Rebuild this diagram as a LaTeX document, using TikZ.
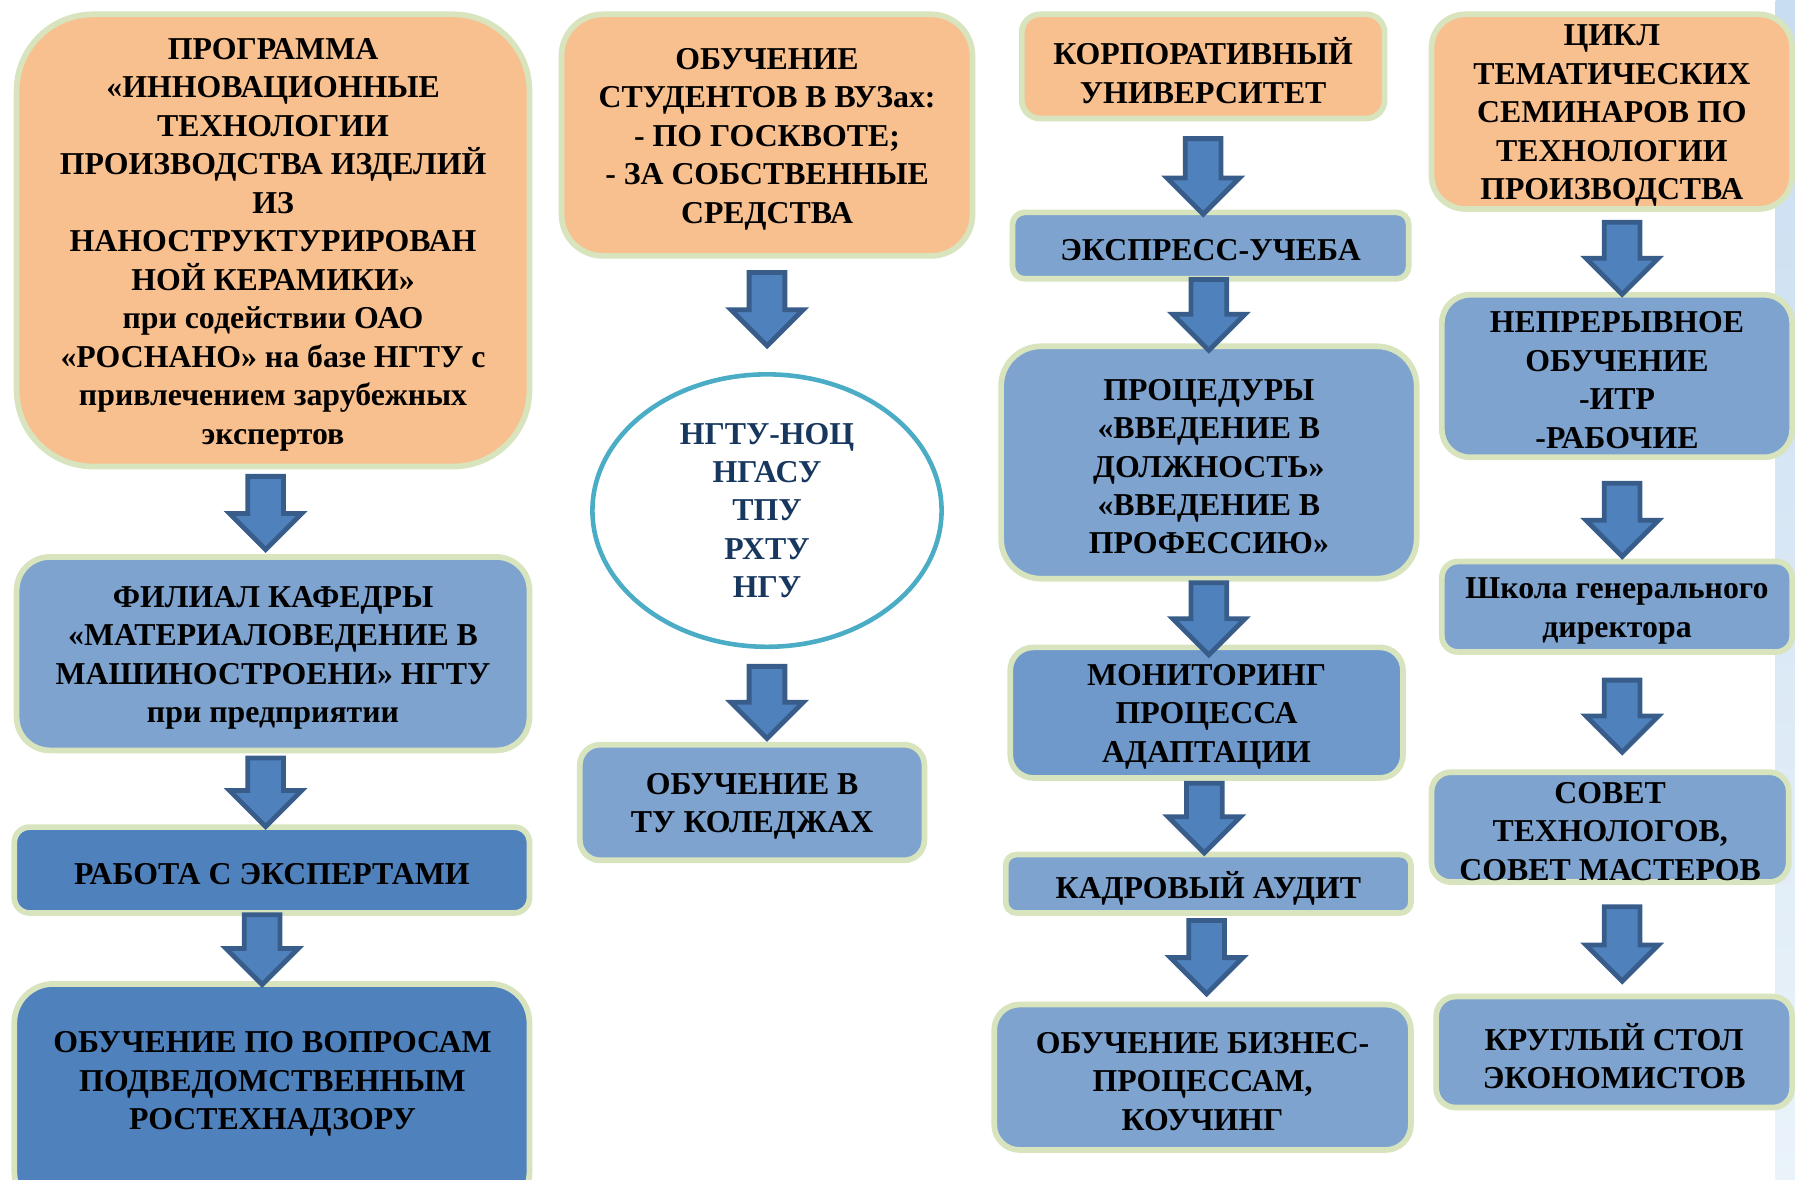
\documentclass[tikz,border=0pt]{standalone}
\usepackage{fontspec}
\setmainfont{Liberation Serif}
\usetikzlibrary{shapes.geometric,shapes.arrows}
\definecolor{orfill}{HTML}{F9C08F}
\definecolor{bord}{HTML}{D7E4BD}
\definecolor{lblue}{HTML}{7EA3CF}
\definecolor{mblue}{HTML}{7099CB}
\definecolor{dblue}{HTML}{4F81BD}
\definecolor{arrfill}{HTML}{4F81BD}
\definecolor{arrline}{HTML}{385D8A}
\definecolor{ellline}{HTML}{4BACC6}
\definecolor{navytxt}{HTML}{17375E}
\definecolor{stripa}{HTML}{C9DDF0}
\definecolor{stripb}{HTML}{EAF3FA}

\newcommand\mybox[7]{%
  \pgfmathsetmacro\bw{#4-#2}%
  \pgfmathsetmacro\bh{#5-#3}%
  \pgfmathsetmacro\br{0.0835*min(\bw,\bh)}%
  \pgfmathsetmacro\bcx{(#2+#4)/2}%
  \pgfmathsetmacro\bcy{(#3+#5)/2}%
  \node[#6, rounded corners=\br pt, minimum width={(\bw-5)*0.5pt}, minimum height={(\bh-5)*0.5pt}] (#1) at (\bcx,\bcy) {};%
  \node[txt, yshift=-1.8pt] (#1t) at (#1.center) {#7};%
}
\newcommand\myarrow[4]{%
  \pgfmathsetmacro\al{(#4-#3-4)*0.5}%
  \pgfmathsetmacro\aty{#3+2}%
  \node[barrow, minimum height=\al pt, anchor=tail] (#1) at (#2,\aty) {};%
}

\begin{document}
\begin{tikzpicture}[x=0.5pt,y=-0.5pt,
  txt/.style={align=center, inner sep=0pt, font=\bfseries\fontsize{13.9}{16.8}\selectfont},
  box/.style={draw=bord, line width=2.5pt, inner sep=0pt},
  boxor/.style={box, fill=orfill},
  boxlb/.style={box, fill=lblue},
  boxmb/.style={box, fill=mblue},
  boxdb/.style={box, fill=dblue},
  barrow/.style={single arrow, rotate=-90, fill=arrfill, draw=arrline,
    line width=2.1pt, single arrow head extend=8pt,
    inner xsep=0pt, inner ysep=6.75pt, single arrow head indent=0pt}
]
\useasboundingbox (0,0) rectangle (1568,1030);
\fill[top color=stripa, bottom color=stripb] (1551,0) rectangle (1568,1030);

% column 1
\mybox{b1}{12}{10}{465}{410}{boxor}{ПРОГРАММА\\«ИННОВАЦИОННЫЕ\\ТЕХНОЛОГИИ\\ПРОИЗВОДСТВА ИЗДЕЛИЙ\\ИЗ\\НАНОСТРУКТУРИРОВАН\\НОЙ КЕРАМИКИ»\\при содействии ОАО\\«РОСНАНО» на базе НГТУ с\\привлечением зарубежных\\экспертов}
\mybox{b2}{12}{484}{465}{658}{boxlb}{ФИЛИАЛ КАФЕДРЫ\\«МАТЕРИАЛОВЕДЕНИЕ В\\МАШИНОСТРОЕНИ» НГТУ\\при предприятии}
\mybox{b3}{10}{720}{465}{800}{boxdb}{РАБОТА С ЭКСПЕРТАМИ}
\mybox{b4}{10}{857}{465}{1060}{boxdb}{}
\node[txt] (t4) at (238,947) {ОБУЧЕНИЕ ПО ВОПРОСАМ\\ПОДВЕДОМСТВЕННЫМ\\РОСТЕХНАДЗОРУ};

% column 2
\mybox{b5}{488}{10}{852}{226}{boxor}{ОБУЧЕНИЕ\\СТУДЕНТОВ В ВУЗах:\\- ПО ГОСКВОТЕ;\\- ЗА СОБСТВЕННЫЕ\\СРЕДСТВА}
\node[ellipse, draw=ellline, line width=2pt, fill=white, minimum width=152.5pt,
  minimum height=119pt, inner sep=0pt, align=center, text=navytxt,
  font=\bfseries\fontsize{13.9}{16.8}\selectfont] (e1) at (670,446)
  {НГТУ-НОЦ\\НГАСУ\\ТПУ\\РХТУ\\НГУ};
\mybox{b6}{504}{648}{810}{754}{boxlb}{ОБУЧЕНИЕ В\\ТУ КОЛЕДЖАХ}

% column 3
\mybox{b7}{890}{10}{1212}{106}{boxor}{КОРПОРАТИВНЫЙ\\УНИВЕРСИТЕТ}
\mybox{b8}{882}{183}{1233}{246}{boxlb}{ЭКСПРЕСС-УЧЕБА}
\mybox{b9}{872}{300}{1240}{508}{boxlb}{ПРОЦЕДУРЫ\\«ВВЕДЕНИЕ В\\ДОЛЖНОСТЬ»\\«ВВЕДЕНИЕ В\\ПРОФЕССИЮ»}
\mybox{b10}{880}{563}{1228}{682}{boxmb}{МОНИТОРИНГ\\ПРОЦЕССА\\АДАПТАЦИИ}
\mybox{b11}{876}{744}{1235}{800}{boxlb}{КАДРОВЫЙ АУДИТ}
\mybox{b12}{866}{875}{1235}{1007}{boxlb}{ОБУЧЕНИЕ БИЗНЕС-\\ПРОЦЕССАМ,\\КОУЧИНГ}

% column 4
\mybox{b13}{1248}{10}{1568}{185}{boxor}{ЦИКЛ\\ТЕМАТИЧЕСКИХ\\СЕМИНАРОВ ПО\\ТЕХНОЛОГИИ\\ПРОИЗВОДСТВА}
\mybox{b14}{1257}{255}{1568}{402}{boxlb}{НЕПРЕРЫВНОЕ\\ОБУЧЕНИЕ\\-ИТР\\-РАБОЧИЕ}
\mybox{b15}{1257}{488}{1568}{572}{boxlb}{Школа генерального\\директора}
\mybox{b16}{1248}{672}{1565}{773}{boxlb}{СОВЕТ\\ТЕХНОЛОГОВ,\\СОВЕТ МАСТЕРОВ}
\mybox{b17}{1252}{868}{1568}{970}{boxlb}{КРУГЛЫЙ СТОЛ\\ЭКОНОМИСТОВ}

% arrows
\myarrow{a1}{232}{412}{480}
\myarrow{a2}{232}{658}{722}
\myarrow{a3}{229}{795}{860}
\myarrow{a4}{670}{234}{302}
\myarrow{a5}{670}{578}{645}
\myarrow{a6}{1051}{117}{187}
\myarrow{a7}{1056}{240}{306}
\myarrow{a8}{1056}{505}{572}
\myarrow{a9}{1052}{680}{745}
\myarrow{a10}{1054}{800}{868}
\myarrow{a11}{1417}{190}{257}
\myarrow{a12}{1417}{418}{486}
\myarrow{a13}{1417}{590}{657}
\myarrow{a14}{1417}{788}{857}
\end{tikzpicture}
\end{document}
